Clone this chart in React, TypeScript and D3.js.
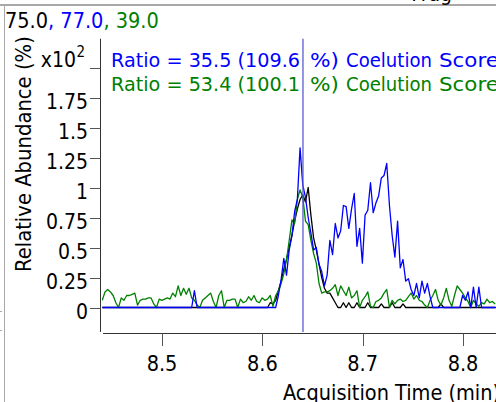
import React from "react";
import * as d3 from "d3";

// Acquisition time grid (uniform sampling)
const START_TIME = 8.4405;
const TIME_STEP = 0.0027;

const blackSeries = [
  0,0,0,0,0,0,0,0,0,0, 0,0,0,0,0,0,0,0,0,0,
  0,0,0,0,0,0,0,0,0,0, 0,0,0,0,0,0,0,0,0,0,
  0,0,0,0,0,0,0,0,0,0, 0,0,0,0,0,0,0,0,0,0,
  0,0,0.04,0.03,0.06,0.14,0.22,0.32,0.40,0.50,
  0.60,0.72,0.82,0.90,0.94,0.88,1.00,0.77,0.58,0.48,
  0.36,0.25,0.16,0.12,0.12,0.08,0.04,0,0,0.04,
  0,0.04,0,0,0.04,0,0,0,0.04,0,
  0,0,0,0.03,0,0,0,0.04,0,0,
  0,0.03,0,0,0,0,0,0,0,0,
  0,0,0,0,0,0.03,0,0,0,0,
  0,0,0,0,0,0,0,0,0,0,
  0,0,0,0,0,0,0,0,0,0,
  0,0,0,0,0,0,0,0,0,0,
  0,0,0,0,0,0,0,0,0,0,
  0,0.03,0,0.04,0,0
];

const blueSeries = [
  0,0,0,0,0,0,0,0,0,0, 0,0,0,0,0,0,0,0,0,0,
  0,0,0,0,0,0,0,0,0,0, 0,0,0,0,0.14,0,0,0,0,0,
  0,0,0,0,0,0,0,0,0,0, 0,0,0,0,0,0,0,0,0,0,
  0,0,0,0,0,0.10,0.23,0.41,0.27,0.48,
  0.60,0.80,0.90,1.33,1.02,0.92,0.75,0.62,0.48,0.50,
  0.36,0.30,0.18,0.27,0.56,0.44,0.70,0.58,0.64,0.85,
  0.84,0.66,0.82,0.95,0.51,0.66,0.37,0.77,0.81,1.04,
  0.79,0.87,0.93,1.08,1.10,1.20,0.85,0.60,0.42,0.72,
  0.33,0.40,0.22,0.24,0.15,0.10,0.20,0.08,0.22,0.12,
  0.20,0.09,0,0,0,0,0,0,0,0,
  0,0,0,0.10,0.06,0.13,0,0.17,0,0.17,
  0,0,0,0,0,0
];

const greenSeries = [
  0.06,0.13,0.15,0.13,0.10,0.04,0,0.08,0.06,0.10,
  0.10,0.11,0.12,0.02,0.06,0.07,0.07,0.08,0.08,0.03,
  0,0.07,0.06,0.07,0.08,0.07,0.12,0.09,0.18,0.10,
  0.16,0.11,0.16,0.08,0.06,0.02,0,0.06,0.08,0.10,
  0.12,0.05,0,0.10,0.14,0,0.06,0.06,0.07,0.07,
  0,0.07,0.04,0.05,0.09,0.06,0.10,0.05,0.04,0.08,
  0.06,0.07,0.10,0.01,0.10,0.14,0.20,0.28,0.40,0.56,
  0.73,0.70,0.90,0.98,0.92,0.72,0.69,0.56,0.45,0.37,
  0.20,0.12,0.13,0.13,0.14,0.16,0.19,0.10,0.18,0.14,
  0.10,0.17,0.08,0.10,0.14,0,0.06,0.09,0.13,0.01,
  0,0.05,0.06,0.08,0.12,0.15,0,0.06,0.03,0.06,
  0.07,0.05,0.06,0.09,0.12,0.07,0.10,0.06,0.05,0.02,
  0,0.06,0.10,0.15,0.06,0.02,0.08,0.16,0.06,0.01,
  0.10,0.18,0.15,0.12,0.08,0.05,0,0.06,0.03,0.01,
  0.04,0.03,0.07,0.04,0.05,0.03
];

const xTicks = [8.5, 8.6, 8.7, 8.8];
const xTickLabels = ["8.5", "8.6", "8.7", "8.8"];
const yTicks = [0, 0.25, 0.5, 0.75, 1, 1.25, 1.5, 1.75];
const yTickLabels = ["0", "0.25", "0.5", "0.75", "1", "1.25", "1.5", "1.75"];
const yScaleTick = 2;
const markerTime = 8.6405;

const titleParts = ["75.0", ", 77.0", ", 39.0"];
const ratioHeads = ["Ratio = 35.5 (109.6", "Ratio = 53.4 (100.1"];
const ratioTail = ["%)", "Coelution", "Score"];

const BLUE = "#0000ff";
const GREEN = "#008000";
const COND = "'DejaVu Sans Condensed', 'DejaVu Sans', sans-serif";
const NORM = "'DejaVu Sans', Verdana, sans-serif";

export default function App() {
  const W = 496, H = 402;
  const x = d3.scaleLinear().domain([8.5, 8.8]).range([162, 463]);
  const y = d3.scaleLinear().domain([0, 2]).range([307.5, 67.5]);
  const times = blackSeries.map((_, i) => START_TIME + i * TIME_STEP);
  const line = d3
    .line<number>()
    .x((_, i) => x(times[i]))
    .y((d) => y(d));

  const axisTop = y(2.24);
  const axisBottom = y(-0.204);
  const xAxisY = 333.5;
  const yAxisX = 100.5;

  // segment layout of the ratio annotation [x, width]
  const tailLayout: [number, number][] = [[310, 29], [346, 86], [439, 60]];

  const ratioLine = (i: number, color: string, baseY: number) => (
    <g key={i} fontFamily={NORM} fontSize={19} fill={color}>
      <text x={111} y={baseY} textLength={189} lengthAdjust="spacingAndGlyphs">
        {ratioHeads[i]}
      </text>
      {ratioTail.map((s, j) => (
        <text
          key={j}
          x={tailLayout[j][0]}
          y={baseY}
          textLength={tailLayout[j][1]}
          lengthAdjust="spacingAndGlyphs"
        >
          {s}
        </text>
      ))}
    </g>
  );

  return (
    <svg
      width={W}
      height={H}
      style={{ position: "absolute", left: 0, top: 0, background: "#fff" }}
    >
      <defs>
        <clipPath id="plot">
          <rect x={102} y={axisTop} width={W - 102} height={axisBottom - axisTop} />
        </clipPath>
      </defs>
      {/* frame */}
      <line x1={0} x2={W} y1={5} y2={5} stroke="#a8a8a8" strokeWidth={2} />
      <line x1={4.5} x2={4.5} y1={5} y2={H} stroke="#a8a8a8" strokeWidth={1} />
      <line x1={0} x2={2} y1={311.5} y2={311.5} stroke="#a8a8a8" />
      <line x1={0} x2={2} y1={330.5} y2={330.5} stroke="#a8a8a8" />
      <text x={452} y={1} textAnchor="end" fontFamily={COND} fontSize={21} fill="#000">
        Frag
      </text>

      {/* title */}
      <text x={5} y={28} fontFamily={COND} fontSize={21.5}>
        <tspan fill="#000">{titleParts[0]}</tspan>
        <tspan fill={BLUE}>{titleParts[1]}</tspan>
        <tspan fill={GREEN}>{titleParts[2]}</tspan>
      </text>

      {/* y axis */}
      <line x1={yAxisX} x2={yAxisX} y1={axisTop} y2={axisBottom} stroke="#333" strokeWidth={1} />
      {yTicks.map((t, i) => (
        <g key={t}>
          <line x1={90} x2={yAxisX} y1={Math.round(y(t)) + 0.5} y2={Math.round(y(t)) + 0.5} stroke="#555" />
          <text
            x={88}
            y={y(t) + 11}
            textAnchor="end"
            fontFamily={COND}
            fontSize={21}
            fill="#000"
          >
            {yTickLabels[i]}
          </text>
        </g>
      ))}
      <line x1={90} x2={yAxisX} y1={Math.round(y(yScaleTick)) + 0.5} y2={Math.round(y(yScaleTick)) + 0.5} stroke="#555" />
      <text x={76} y={y(yScaleTick) - 1} textAnchor="end" fontFamily={COND} fontSize={21} fill="#000">
        x10
      </text>
      <text x={76.5} y={y(yScaleTick) - 11} fontFamily={COND} fontSize={15} fill="#000">
        2
      </text>
      <text
        transform={`translate(30.5, 272) rotate(-90)`}
        fontFamily={COND}
        fontSize={21.8}
        fill="#000"
      >
        Relative Abundance (%)
      </text>

      {/* x axis */}
      <line x1={103} x2={W} y1={xAxisY} y2={xAxisY} stroke="#333" strokeWidth={1} />
      {xTicks.map((t, i) => (
        <g key={t}>
          <line x1={Math.round(x(t)) + 0.5} x2={Math.round(x(t)) + 0.5} y1={xAxisY} y2={346} stroke="#555" />
          <text x={x(t)} y={370.5} textAnchor="middle" fontFamily={COND} fontSize={21.5} fill="#000">
            {xTickLabels[i]}
          </text>
        </g>
      ))}
      <text x={283} y={399.5} fontFamily={COND} fontSize={21.5} fill="#000">
        Acquisition Time (min)
      </text>

      {/* traces */}
      <g clipPath="url(#plot)" fill="none" strokeWidth={1.3} strokeLinejoin="round">
        <path d={line(blackSeries) || ""} stroke="#000" />
        <path d={line(greenSeries) || ""} stroke={GREEN} />
        <path d={line(blueSeries) || ""} stroke={BLUE} />
      </g>

      {/* marker line */}
      <line
        x1={x(markerTime)}
        x2={x(markerTime)}
        y1={axisTop}
        y2={axisBottom}
        stroke="#5c5cd0"
        strokeWidth={1.3}
      />

      {/* ratio labels */}
      {ratioLine(0, BLUE, 67)}
      {ratioLine(1, GREEN, 90.5)}
    </svg>
  );
}
